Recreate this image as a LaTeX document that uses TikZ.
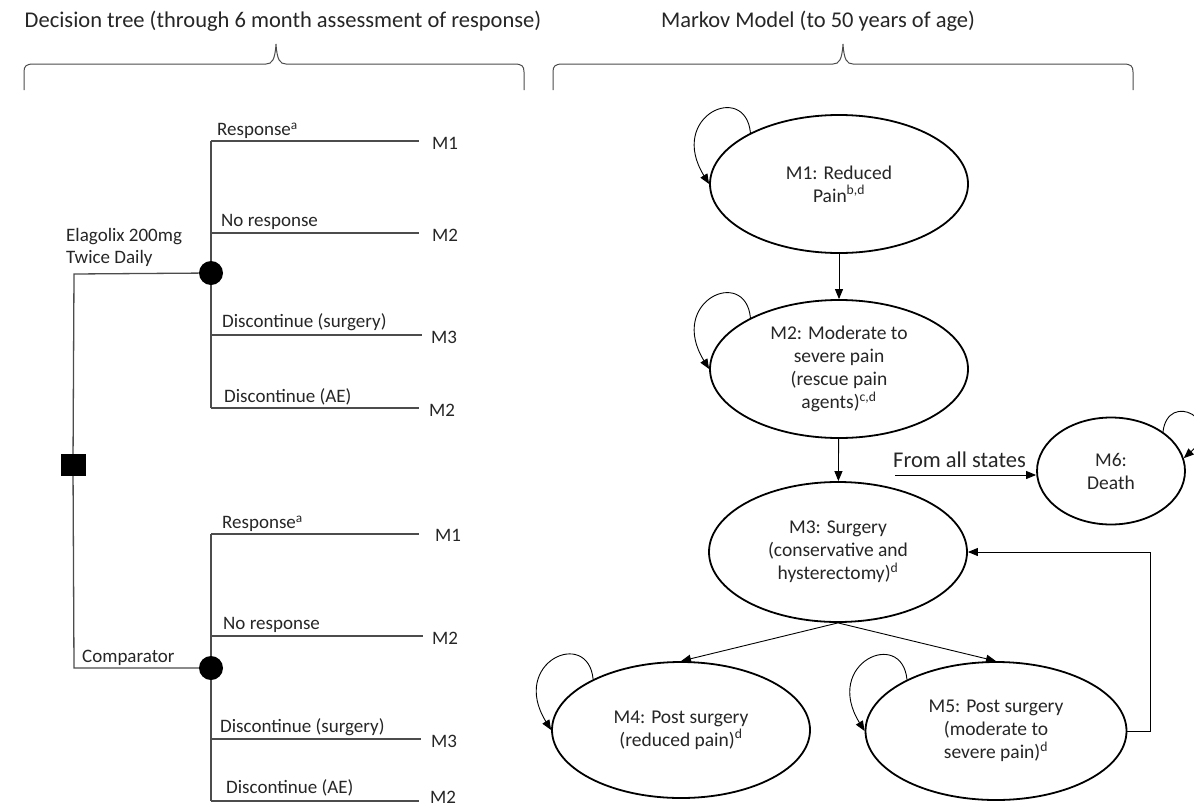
\documentclass[tikz,border=0pt]{standalone}
\usepackage{fontspec}
\setmainfont{Carlito}
\usetikzlibrary{arrows.meta,shapes.geometric}
\begin{document}
\begin{tikzpicture}[x=1pt,y=-1pt,
  lab/.style={font=\fontsize{19}{22}\selectfont, inner sep=0pt, anchor=west, text=black!85},
  ttl/.style={font=\fontsize{22.5}{26}\selectfont, inner sep=0pt, text=black!85},
  tline/.style={draw=black!70, line width=1.3pt},
  state/.style={ellipse, draw, line width=1.8pt, inner sep=0pt, align=center, font=\fontsize{19.5}{23}\selectfont, text=black!85},
  arr/.style={-{Triangle[length=10pt,width=8pt]}, line width=0.9pt},
  chance/.style={circle, fill=black, minimum size=24pt, inner sep=0pt},
  dec/.style={rectangle, fill=black, minimum width=25pt, minimum height=22pt, inner sep=0pt},
  bracel/.style={draw=black!70, line width=1pt}]
\clip (0,0) rectangle (1194,806);
\fill[white] (0,0) rectangle (1194,806);

% titles
\node[ttl] (t1) at (283,21) {Decision tree (through 6 month assessment of response)};
\node[ttl] (t2) at (818,21) {Markov Model (to 50 years of age)};

% braces
\draw[bracel] (24,90) -- (24,72) .. controls (24,66) and (26,64) .. (34,64) -- (266,64)
  .. controls (272,64) and (275,60) .. (276,44) .. controls (277,60) and (280,64) .. (286,64)
  -- (514,64) .. controls (522,64) and (524,66) .. (524,72) -- (524,90);
\draw[bracel] (553,90) -- (553,72) .. controls (553,66) and (555,64) .. (563,64) -- (833,64)
  .. controls (839,64) and (842,60) .. (843,44) .. controls (844,60) and (847,64) .. (853,64)
  -- (1123,64) .. controls (1131,64) and (1133,66) .. (1133,72) -- (1133,90);

% decision tree nodes
\node[dec] (d) at (73,465) {};
\node[chance] (c1) at (211,273) {};
\node[chance] (c2) at (211,668) {};
\coordinate (k1) at (74,274);
\coordinate (k2) at (74,668);
\draw[tline] (d) -- (k1) -- (c1);
\draw[tline] (d) -- (k2) -- (c2);

\node[lab, align=left] (elag) at (66,247) {Elagolix 200mg\\Twice Daily};
\node[lab] (comp) at (82,658) {Comparator};

% upper branches
\coordinate (u1) at (211,141);
\coordinate (u2) at (211,233);
\coordinate (u3) at (211,335);
\coordinate (u4) at (211,408);
\node[lab] (o11) at (432,143) {M1};
\node[lab] (o12) at (432,235) {M2};
\node[lab] (o13) at (431,337) {M3};
\node[lab] (o14) at (429,410) {M2};
\draw[tline] (c1) -- (u1);
\draw[tline] (c1) -- (u4);
\draw[tline, shorten >=13pt] (u1) -- (u1 -| o11.west);
\draw[tline, shorten >=13pt] (u2) -- (u2 -| o12.west);
\draw[tline, shorten >=9pt] (u3) -- (u3 -| o13.west);
\draw[tline, shorten >=10pt] (u4) -- (u4 -| o14.west);
\node[lab] (l11) at (217,131) {Response\textsuperscript{a}};
\node[lab] (l12) at (221,222) {No response};
\node[lab] (l13) at (222,322) {Discontinue (surgery)};
\node[lab] (l14) at (224,397) {Discontinue (AE)};

% lower branches
\coordinate (v1) at (211,534);
\coordinate (v2) at (211,636);
\coordinate (v3) at (211,739);
\coordinate (v4) at (211,801);
\node[lab] (o21) at (435,535) {M1};
\node[lab] (o22) at (432,638) {M2};
\node[lab] (o23) at (431,741) {M3};
\node[lab] (o24) at (430,797) {M2};
\draw[tline] (c2) -- (v1);
\draw[tline] (c2) -- (v4);
\draw[tline, shorten >=16pt] (v1) -- (v1 -| o21.west);
\draw[tline, shorten >=9pt] (v2) -- (v2 -| o22.west);
\draw[tline, shorten >=10pt] (v3) -- (v3 -| o23.west);
\draw[tline, shorten >=11pt] (v4) -- (v4 -| o24.west);
\node[lab] (l21) at (222,524) {Response\textsuperscript{a}};
\node[lab] (l22) at (223,625) {No response};
\node[lab] (l23) at (220,727) {Discontinue (surgery)};
\node[lab] (l24) at (226,788) {Discontinue (AE)};

% Markov states
\node[state, minimum width=258pt, minimum height=138pt] (m1) at (839,184) {M1: Reduced\\Pain\textsuperscript{b,d}};
\node[state, minimum width=258pt, minimum height=138pt] (m2) at (839,369) {M2: Moderate to\\severe pain\\(rescue pain\\agents)\textsuperscript{c,d}};
\node[state, minimum width=258pt, minimum height=140pt] (m3) at (838,552) {M3: Surgery\\(conservative and\\hysterectomy)\textsuperscript{d}};
\node[state, minimum width=258pt, minimum height=136pt] (m4) at (681,730) {M4: Post surgery\\(reduced pain)\textsuperscript{d}};
\node[state, minimum width=261pt, minimum height=138pt] (m5) at (996,731) {M5: Post surgery\\(moderate to\\severe pain)\textsuperscript{d}};
\node[state, minimum width=148pt, minimum height=107pt] (m6) at (1111,471) {M6:\\Death};

% transitions
\draw[arr] (m1) -- (m2);
\draw[arr] (m2) -- (m3);
\draw[arr] (m3.south) -- (m4.north);
\draw[arr] (m3.south) -- (m5.north);
\draw[arr] (m5.east) -- ++(23,0) |- (m3.east);

\coordinate (fa) at (895,475);
\node[ttl, anchor=south west] (fat) at (893,468) {From all states};
\draw[arr] (fa) -- (fa -| m6.west);

% self loops
\draw[arr] (m1.150) .. controls +(-5,-52) and +(-42,-68) .. (m1.west);
\draw[arr] (m2.150) .. controls +(-5,-52) and +(-42,-68) .. (m2.west);
\draw[arr] (m4.150) .. controls +(-5,-52) and +(-42,-68) .. (m4.west);
\draw[arr] (m5.150) .. controls +(-5,-52) and +(-42,-68) .. (m5.west);
\draw[arr] (m6.37) .. controls +(5,-42) and +(42,-38) .. (m6.10);
\end{tikzpicture}
\end{document}
